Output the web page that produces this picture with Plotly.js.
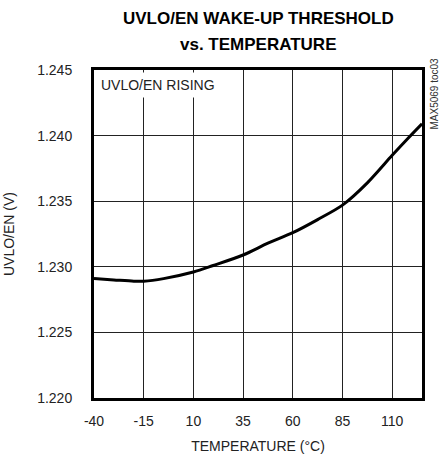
<!DOCTYPE html>
<html>
<head>
<meta charset="utf-8">
<script src="https://cdn.plot.ly/plotly-3.0.1.min.js"></script>
<style>html,body{margin:0;padding:0;background:#fff}#chart{width:441px;height:459px}</style>
</head>
<body>
<div id="chart"></div>
<script>
const temperature = [-40, -30, -20, -15, -5, 10, 20, 35, 47.5, 60, 72.5, 85, 97.5, 110, 118, 125];
const uvloEn = [1.2291, 1.2290, 1.2289, 1.2289, 1.2291, 1.2296, 1.2301, 1.2309, 1.2318, 1.2326, 1.2336, 1.2347, 1.2364, 1.2385, 1.2398, 1.2409];
const xTicks = [-40, -15, 10, 35, 60, 85, 110];
const yTicks = [1.220, 1.225, 1.230, 1.235, 1.240, 1.245];
const yTickText = ['1.220', '1.225', '1.230', '1.235', '1.240', '1.245'];
const titleLines = ['UVLO/EN WAKE-UP THRESHOLD', 'vs. TEMPERATURE'];

const FONT = '"Liberation Sans Narrow", "Arial Narrow", "Liberation Sans", Arial, sans-serif';

const trace = {
  x: temperature, y: uvloEn, type: 'scatter', mode: 'lines',
  line: {color: '#000', width: 3, shape: 'spline', smoothing: 0.8},
  hoverinfo: 'skip'
};

const layout = {
  width: 441, height: 459,
  margin: {l: 94, r: 19, t: 70, b: 61},
  paper_bgcolor: '#fff', plot_bgcolor: '#fff',
  showlegend: false,
  font: {family: FONT, color: '#222', size: 13},
  xaxis: {
    range: [-40, 125], tickvals: xTicks, ticktext: xTicks.map(String),
    showgrid: true, gridcolor: '#222', gridwidth: 1, zeroline: false,
    showline: true, linecolor: '#000', linewidth: 3, mirror: true,
    ticks: '', ticklabelstandoff: 8,
    tickfont: {family: FONT, size: 14, color: '#222'},
    title: {text: 'TEMPERATURE (°C)', font: {family: FONT, size: 14, color: '#222'}, standoff: 14}
  },
  yaxis: {
    range: [1.220, 1.245], tickvals: yTicks, ticktext: yTickText,
    showgrid: true, gridcolor: '#222', gridwidth: 1, zeroline: false,
    showline: true, linecolor: '#000', linewidth: 3, mirror: true,
    ticks: '', ticklabelstandoff: 16,
    tickfont: {family: FONT, size: 14, color: '#222'},
    title: {text: 'UVLO/EN (V)', font: {family: FONT, size: 14, color: '#222'}, standoff: 20}
  },
  annotations: [
    {
      text: '<b>' + titleLines[0] + '</b>',
      xref: 'paper', yref: 'paper', x: 0.5, y: 1, xanchor: 'center', yanchor: 'middle',
      yshift: 52, showarrow: false, font: {family: FONT, size: 17, color: '#000'}
    },
    {
      text: '<b>' + titleLines[1] + '</b>',
      xref: 'paper', yref: 'paper', x: 0.5, y: 1, xanchor: 'center', yanchor: 'middle',
      yshift: 26, showarrow: false, font: {family: FONT, size: 17, color: '#000'}
    },
    {
      text: 'UVLO/EN RISING', xref: 'paper', yref: 'paper', x: 0, y: 1,
      xanchor: 'left', yanchor: 'top', xshift: 2, yshift: -2, showarrow: false,
      bgcolor: '#fff', borderpad: 4, align: 'left',
      font: {family: FONT, size: 14, color: '#222'}
    },
    {
      text: 'MAX5069 toc03', xref: 'paper', yref: 'paper', x: 1, y: 1,
      xanchor: 'left', yanchor: 'top', xshift: 4, yshift: 14, showarrow: false,
      textangle: -90, font: {family: FONT, size: 10, color: '#333'}
    }
  ]
};

Plotly.newPlot('chart', [trace], layout, {displayModeBar: false, staticPlot: true});
</script>
</body>
</html>
